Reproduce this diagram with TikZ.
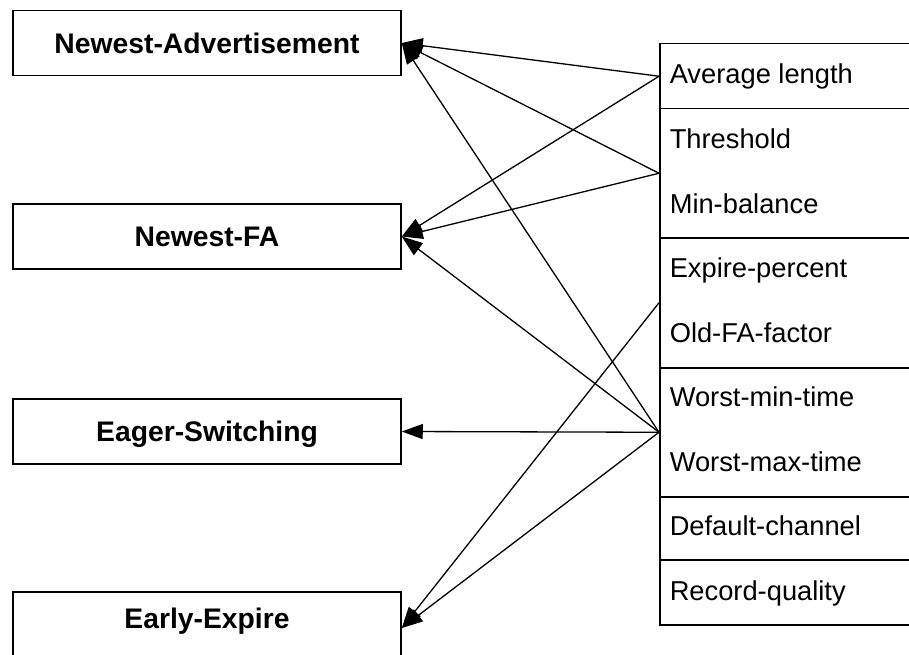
\documentclass[tikz,border=0pt]{standalone}
\usepackage{fontspec}
\setmainfont{Liberation Sans}
\usetikzlibrary{arrows.meta}
\begin{document}
\begin{tikzpicture}[x=1pt,y=-1pt,
  line width=1.5pt,
  policy/.style={draw, rectangle, minimum width=388pt, minimum height=65pt,
    inner sep=0pt, text height=20.5pt, text depth=0pt,
    font=\fontsize{28.3}{32}\selectfont\bfseries},
  section/.style={draw, rectangle, anchor=north west, minimum width=280pt,
    inner sep=0pt},
  field/.style={anchor=base west, inner sep=0pt,
    font=\fontsize{27.3}{32}\selectfont},
  link/.style={-{Triangle[length=21pt,width=15pt]}, line width=1.3pt}]
\useasboundingbox (0,0) rectangle (909,655);
\clip (0,0) rectangle (909,655);

% policies
\node[policy] (adv)   at (207,43)    {Newest-Advertisement};
\node[policy] (fa)    at (207,236.5) {Newest-FA};
\node[policy] (eager) at (207,431.5) {Eager-Switching};
\node[policy, minimum height=72pt, text height=20pt, text depth=20pt]
      (early) at (207,628) {Early-Expire};

% parameter table
\node[section, minimum height=65pt]  (s1) at (659,43)  {};
\node[section, minimum height=129pt] (s2) at (659,108) {};
\node[section, minimum height=130pt] (s3) at (659,237) {};
\node[section, minimum height=129pt] (s4) at (659,367) {};
\node[section, minimum height=63pt]  (s5) at (659,496) {};
\node[section, minimum height=65pt]  (s6) at (659,559) {};

\node[field] (avg)   at (669,84)    {Average length};
\node[field] (thr)   at (669,148.5) {Threshold};
\node[field] (minb)  at (669,213)   {Min-balance};
\node[field] (expp)  at (669,277.5) {Expire-percent};
\node[field] (oldfa) at (669,342)   {Old-FA-factor};
\node[field] (wmin)  at (669,406.5) {Worst-min-time};
\node[field] (wmax)  at (669,471)   {Worst-max-time};
\node[field] (defc)  at (669,535.5) {Default-channel};
\node[field] (recq)  at (669,600)   {Record-quality};

% dependencies
\draw[link] (s1.west) -- (adv.east);
\draw[link] (s1.west) -- (fa.east);
\draw[link] (s2.west) -- (adv.east);
\draw[link] (s2.west) -- (fa.east);
\draw[link] (s3.west) -- (early.east);
\draw[link] (s4.west) -- (adv.east);
\draw[link] (s4.west) -- (fa.east);
\draw[link] (s4.west) -- (eager.east);
\draw[link] (s4.west) -- (early.east);
\end{tikzpicture}
\end{document}
